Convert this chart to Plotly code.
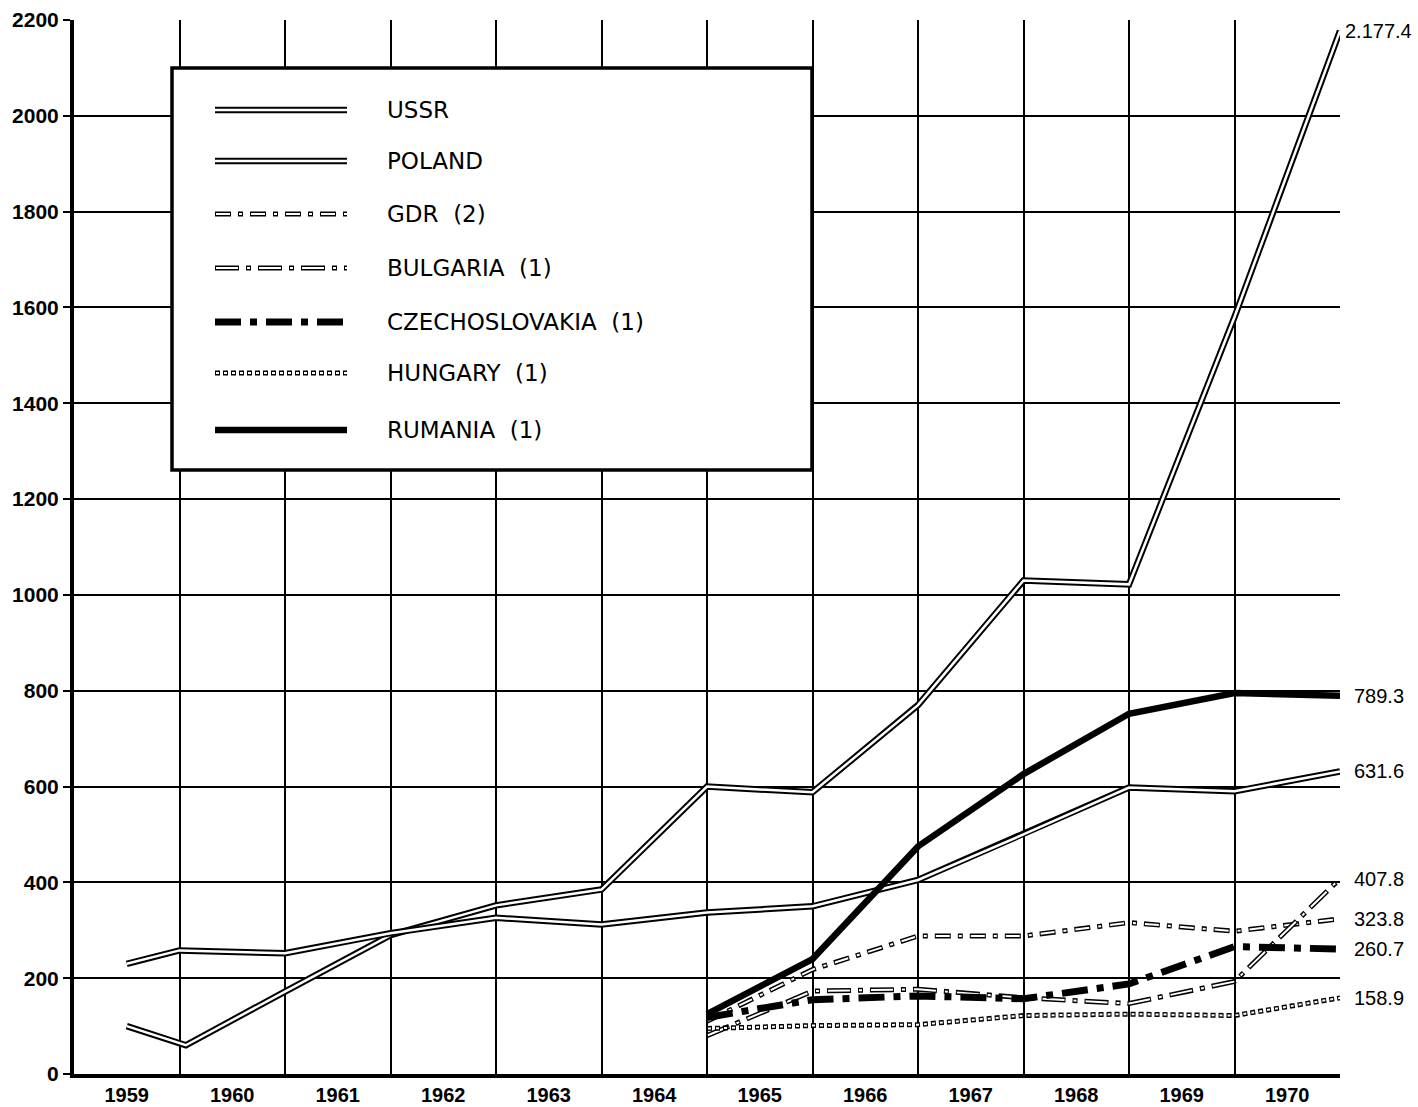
import plotly.graph_objects as go

# ---------------- data ----------------
years = list(range(1959, 1971))
year_labels = [str(y) for y in years]
y_ticks = list(range(0, 2201, 200))

ussr_x = [1959.0, 1959.56, 1960.5, 1961.5, 1962.5, 1963.5, 1964.5,
          1965.5, 1966.5, 1967.5, 1968.5, 1969.5, 1970.5]
ussr_y = [100, 60, 172, 290, 352, 385, 600, 588, 770, 1030, 1022, 1580, 2177.4]

poland_x = [1959.0, 1959.5, 1960.5, 1961.5, 1962.5, 1963.5, 1964.5,
            1965.5, 1966.5, 1967.5, 1968.5, 1969.5, 1970.5]
poland_y = [230, 258, 252, 294, 326, 312, 337, 350, 405, 500, 598, 590, 631.6]

late_x = [1964.5, 1965.5, 1966.5, 1967.5, 1968.5, 1969.5, 1970.5]
gdr_y = [110, 218, 288, 288, 316, 298, 323.8]
bulgaria_y = [80, 173, 177, 159, 147, 193, 407.8]
czech_y = [118, 155, 163, 157, 188, 266, 260.7]
hungary_y = [95, 101, 103, 122, 125, 122, 158.9]
rumania_y = [125, 240, 475, 626, 752, 795, 789.3]

end_labels = ["2.177.4", "789.3", "631.6", "407.8", "323.8", "260.7", "158.9"]
end_values = [2177.4, 789.3, 631.6, 407.8, 323.8, 260.7, 158.9]

legend_names = ["USSR", "POLAND", "GDR&nbsp;&nbsp;(2)", "BULGARIA&nbsp;&nbsp;(1)",
                "CZECHOSLOVAKIA&nbsp;&nbsp;(1)", "HUNGARY&nbsp;&nbsp;(1)", "RUMANIA&nbsp;&nbsp;(1)"]

# ---------------- styles ----------------
DOUBLE = [("black", 6.5, "solid"), ("white", 2.5, "solid")]
GDR_ST = [("black", 5, "16px,7px,5px,7px"), ("white", 2, "0px,1px,14px,9px,3px,8px")]
BUL_ST = [("black", 5, "24px,7px,5px,7px"), ("white", 2, "0px,1px,22px,9px,3px,8px")]
CZE_ST = [("black", 7, "26px,9px,7px,9px")]
HUN_ST = [("black", 5, "5px,3px"), ("white", 2, "0px,1px,3px,4px")]
RUM_ST = [("black", 6.5, "solid")]

series = [
    (ussr_x, ussr_y, DOUBLE),
    (poland_x, poland_y, DOUBLE),
    (late_x, gdr_y, GDR_ST),
    (late_x, bulgaria_y, BUL_ST),
    (late_x, hungary_y, HUN_ST),
    (late_x, czech_y, CZE_ST),
    (late_x, rumania_y, RUM_ST),
]
legend_styles = [DOUBLE, DOUBLE, GDR_ST, BUL_ST, CZE_ST, HUN_ST, RUM_ST]

fig = go.Figure()
for xs, ys, layers in series:
    for color, width, dash in layers:
        fig.add_trace(go.Scatter(x=xs, y=ys, mode="lines",
                                 line=dict(color=color, width=width, dash=dash),
                                 hoverinfo="skip", showlegend=False))

W, H = 1418, 1107
L, R, T, B = 74, 78, 20, 33
pw, ph = W - L - R, H - T - B


def px_x(px):
    return (px - L) / pw


def px_y(py):
    return (H - B - py) / ph


shapes = []
annotations = []

# legend box
shapes.append(dict(type="rect", xref="paper", yref="paper",
                   x0=px_x(172), x1=px_x(812), y0=px_y(470), y1=px_y(68),
                   line=dict(color="black", width=3.5), fillcolor="white", layer="above"))
rows = [110, 161, 214, 268, 322, 373, 430]
for name, st, ry in zip(legend_names, legend_styles, rows):
    for color, width, dash in st:
        shapes.append(dict(type="line", xref="paper", yref="paper",
                           x0=px_x(215), x1=px_x(347), y0=px_y(ry), y1=px_y(ry),
                           line=dict(color=color, width=width, dash=dash), layer="above"))
    annotations.append(dict(xref="paper", yref="paper", x=px_x(385), y=px_y(ry),
                            text=name, showarrow=False, xanchor="left", yanchor="middle",
                            font=dict(family="DejaVu Sans", size=23, color="black")))

# end value labels
shifts = [3, 12, 12, 12, 12, 12, 12]
for txt, val, sh in zip(end_labels, end_values, shifts):
    annotations.append(dict(xref="paper", yref="y", x=1.0, y=val, xshift=sh,
                            text=txt, showarrow=False, xanchor="left", yanchor="middle",
                            font=dict(family="Liberation Sans", size=20, color="black")))

fig.update_layout(
    width=W, height=H,
    margin=dict(l=L, r=R, t=T, b=B, autoexpand=False),
    plot_bgcolor="white", paper_bgcolor="white",
    shapes=shapes, annotations=annotations,
    showlegend=False,
)
fig.update_xaxes(
    range=[1958.5, 1970.5], automargin=False,
    tickvals=years, ticktext=year_labels, ticks="",
    showgrid=False, zeroline=False,
    showline=True, linecolor="black", linewidth=4,
    tickfont=dict(family="Liberation Sans", size=20, color="black", weight="bold"),
    minor=dict(tick0=0.5, dtick=1, showgrid=True, gridcolor="black", gridwidth=2, ticks=""),
)
fig.update_yaxes(
    range=[0, 2200], automargin=False,
    tickvals=y_ticks, ticktext=[str(v) for v in y_ticks],
    ticks="outside", ticklen=7, tickwidth=2, tickcolor="black",
    showgrid=True, gridcolor="black", gridwidth=2, zeroline=False,
    showline=True, linecolor="black", linewidth=4,
    tickfont=dict(family="Liberation Sans", size=21, color="black", weight="bold"),
)

fig.write_html("out.html", config={"displayModeBar": False},
               post_script="document.body.style.margin='0';document.body.style.overflow='hidden';")
